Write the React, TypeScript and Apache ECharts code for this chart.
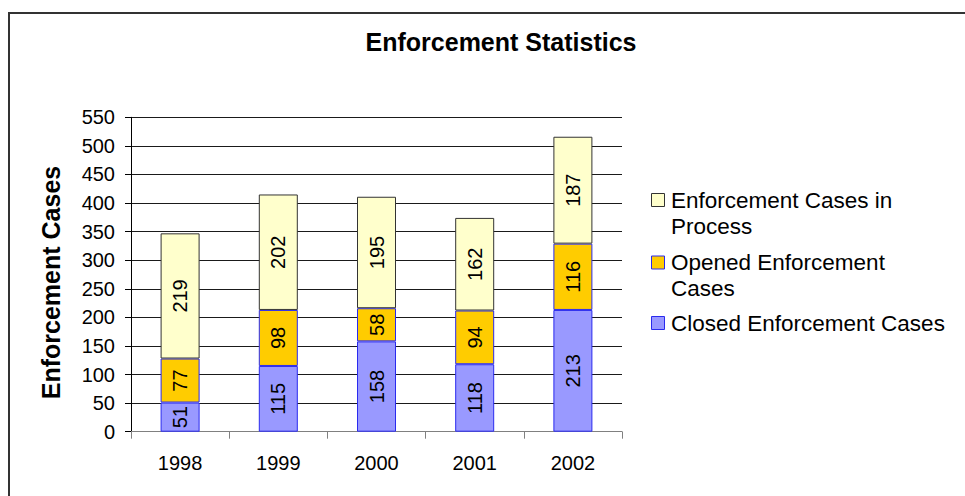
import React, { useEffect, useRef } from "react";
import * as echarts from "echarts";

const years = ["1998", "1999", "2000", "2001", "2002"];
const closedCases = [51, 115, 158, 118, 213];
const openedCases = [77, 98, 58, 94, 116];
const inProcessCases = [219, 202, 195, 162, 187];

const seriesNames = [
  "Closed Enforcement Cases",
  "Opened Enforcement Cases",
  "Enforcement Cases in Process",
];
// legend wording, top item first
const legendLabels = [
  "Enforcement Cases in\nProcess",
  "Opened Enforcement\nCases",
  "Closed Enforcement Cases",
];

const FONT = "'Liberation Sans', Arial, Helvetica, sans-serif";
const fills = ["#9999FF", "#FFCC00", "#FFFFCC"];
const borders = ["#2a2aee", "#2a2aee", "#333333"];

export default function App() {
  const ref = useRef<HTMLDivElement>(null);

  useEffect(() => {
    document.body.style.margin = "0";
    if (!ref.current) return;
    const chart = echarts.init(ref.current, null, { renderer: "svg" });

    const values = [closedCases, openedCases, inProcessCases];

    const legendTops = [187, 249.5, 310];
    const legendOrder = [2, 1, 0];
    const legendGraphics: any[] = [];
    legendOrder.forEach((si, i) => {
      const top = legendTops[i];
      legendGraphics.push({
        type: "rect",
        shape: { x: 651.5, y: top + 6.5, width: 13, height: 13 },
        style: { fill: fills[si], stroke: borders[si], lineWidth: 1 },
        silent: true,
      });
      legendGraphics.push({
        type: "text",
        x: 671,
        y: top,
        style: {
          text: legendLabels[i],
          font: `22.5px ${FONT}`,
          fill: "#000",
          lineHeight: 26,
          textAlign: "left",
          textVerticalAlign: "top",
        },
        silent: true,
      });
    });

    chart.setOption({
      animation: false,
      backgroundColor: "#ffffff",
      title: {
        text: "Enforcement Statistics",
        left: 496,
        top: 24,
        textAlign: "center",
        textStyle: {
          fontFamily: FONT,
          fontSize: 25,
          fontWeight: "bold",
          color: "#000",
        },
      },
      grid: { left: 131, right: 343, top: 117.3, bottom: 64.3 },
      xAxis: {
        type: "category",
        data: years,
        axisLine: { show: true, lineStyle: { color: "#808080", width: 1 } },
        axisTick: {
          show: true,
          alignWithLabel: false,
          length: 7,
          lineStyle: { color: "#808080" },
        },
        axisLabel: {
          margin: 21,
          fontFamily: FONT,
          fontSize: 20,
          color: "#000",
        },
      },
      yAxis: {
        type: "value",
        min: 0,
        max: 550,
        interval: 50,
        axisLine: { show: true, lineStyle: { color: "#000", width: 1 } },
        axisTick: { show: true, length: 6, lineStyle: { color: "#000" } },
        axisLabel: {
          margin: 16,
          fontFamily: FONT,
          fontSize: 20,
          color: "#000",
        },
        splitLine: { show: true, lineStyle: { color: "#1a1a1a", width: 1 } },
      },
      series: seriesNames.map((name, si) => ({
        name,
        type: "bar",
        stack: "cases",
        barWidth: 39,
        data: values[si],
        itemStyle: {
          color: fills[si],
          borderColor: borders[si],
          borderWidth: 1,
        },
        label: {
          show: true,
          position: "inside",
          rotate: 90,
          fontFamily: FONT,
          fontSize: 20,
          color: "#000",
        },
      })),
      graphic: [
        {
          type: "rect",
          shape: { x: 9, y: 13, width: 3000, height: 3000 },
          style: { fill: "none", stroke: "#333", lineWidth: 2 },
          silent: true,
          z: 100,
        },
        {
          type: "text",
          x: 50.5,
          y: 282.5,
          rotation: Math.PI / 2,
          style: {
            text: "Enforcement Cases",
            font: `bold 25px ${FONT}`,
            fill: "#000",
            textAlign: "center",
            textVerticalAlign: "middle",
          },
          silent: true,
        },
        ...legendGraphics,
      ],
    });

    return () => chart.dispose();
  }, []);

  return <div ref={ref} style={{ width: 965, height: 496 }} />;
}
